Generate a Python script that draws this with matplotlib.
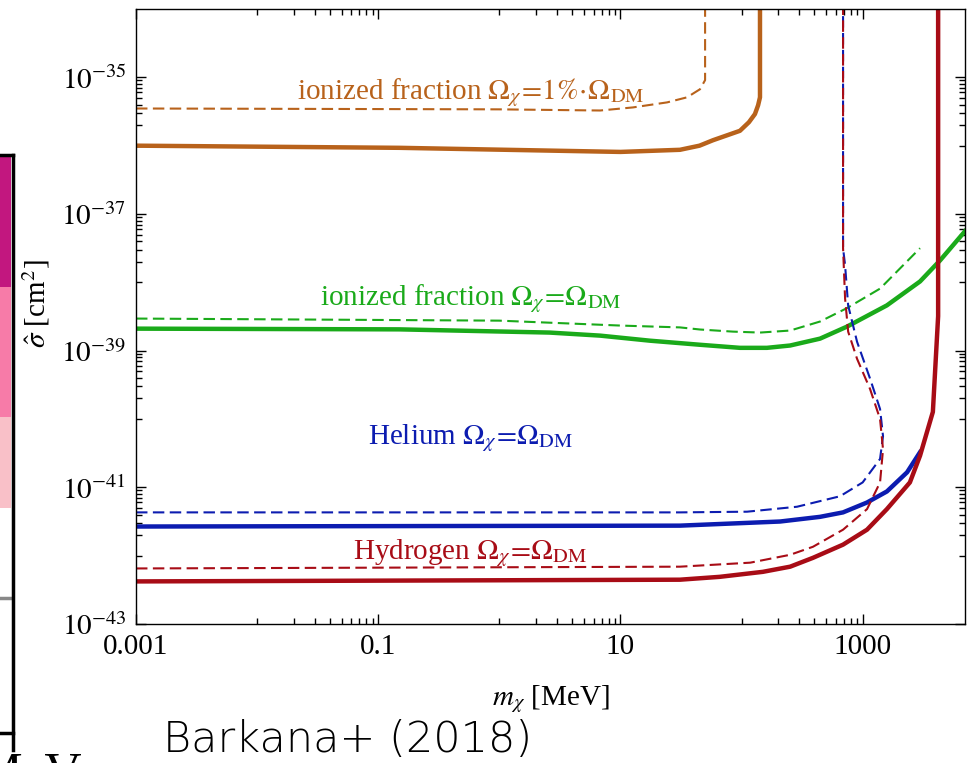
import matplotlib
matplotlib.use("Agg")
import matplotlib.pyplot as plt
from matplotlib.patches import Rectangle
from matplotlib.lines import Line2D

plt.rcParams["font.family"] = ["Liberation Serif", "DejaVu Serif"]
plt.rcParams["mathtext.fontset"] = "stix"

# --- data (m in MeV, sigma in cm^2) ---
ion1_solid_m = [0.001, 0.15, 10, 31, 45, 58, 97, 115, 129, 137, 142, 142]
ion1_solid_s = [1.0e-36, 9.3e-37, 8.1e-37, 8.7e-37, 1.0e-36, 1.2e-36, 1.65e-36, 2.2e-36,
                2.9e-36, 3.9e-36, 5.1e-36, 2e-34]
ion1_dash_m = [0.001, 1.0, 6.8, 12.7, 24.3, 35.5, 45.4, 50, 50]
ion1_dash_s = [3.5e-36, 3.4e-36, 3.27e-36, 3.63e-36, 4.3e-36, 5.1e-36, 6.7e-36, 9.1e-36, 2e-34]

ion_solid_m = [0.001, 0.15, 2.6, 6.8, 17.5, 45.4, 97, 162, 252, 445, 743, 1585, 2977,
               4365, 7000]
ion_solid_s = [2.1e-39, 2.05e-39, 1.84e-39, 1.66e-39, 1.4e-39, 1.22e-39, 1.1e-39, 1.1e-39,
               1.19e-39, 1.5e-39, 2.25e-39, 4.6e-39, 1.03e-38, 2.1e-38, 5.6e-38]
ion_dash_m = [0.001, 1.0, 10, 31, 45.4, 85, 142, 252, 445, 743, 1393, 2977]
ion_dash_s = [2.95e-39, 2.75e-39, 2.33e-39, 2.19e-39, 2.04e-39, 1.9e-39, 1.84e-39,
              1.97e-39, 2.67e-39, 4.2e-39, 8.1e-39, 3.16e-38]

he_solid_m = [0.001, 31, 208, 445, 689, 1087, 1585, 2328, 2977]
he_solid_s = [2.67e-42, 2.75e-42, 3.16e-42, 3.7e-42, 4.3e-42, 6.0e-42, 8.7e-42, 1.66e-41,
              3.27e-41]
he_dash_m = [0.001, 31, 111, 287, 650, 1000, 1392, 1473, 1392, 1151, 899, 759, 716, 689, 689]
he_dash_s = [4.3e-42, 4.3e-42, 4.4e-42, 5.2e-42, 7.4e-42, 1.18e-41, 2.6e-41, 5.6e-41,
             1.4e-40, 3.9e-40, 1.35e-39, 4.6e-39, 1.78e-38, 3.16e-38, 2e-34]

h_solid_m = [0.001, 31, 66, 150, 252, 389, 689, 1087, 1585, 2455, 2977, 3800, 4200, 4200]
h_solid_s = [4.2e-43, 4.45e-43, 4.9e-43, 5.8e-43, 6.9e-43, 9.3e-43, 1.45e-42, 2.4e-42,
             4.8e-42, 1.18e-41, 2.9e-41, 1.27e-40, 3.2e-39, 2e-34]
h_dash_m = [0.001, 31, 118, 252, 389, 689, 1087, 1392, 1473, 1392, 1151, 899, 759, 716,
            689, 689]
h_dash_s = [6.5e-43, 6.9e-43, 7.9e-43, 1.03e-42, 1.35e-42, 2.4e-42, 4.8e-42, 1.18e-41,
            3.6e-41, 1.0e-40, 2.75e-40, 7.6e-40, 1.9e-39, 5.8e-39, 3.16e-38, 2e-34]

xmajor = [1e-3, 1e-1, 1e1, 1e3]
xmajor_labels = ["0.001", "0.1", "10", "1000"]
ymajor = [1e-43, 1e-41, 1e-39, 1e-37, 1e-35]
ymajor_labels = [r"$10^{-43}$", r"$10^{-41}$", r"$10^{-39}$", r"$10^{-37}$", r"$10^{-35}$"]

ORANGE = "#b8621b"
GREEN = "#1aaa1a"
BLUE = "#0c1cb0"
RED = "#a80c16"

W, H = 973, 763
fig = plt.figure(figsize=(W / 100, H / 100), dpi=100)
ax = fig.add_axes([136 / W, 1 - 624 / H, (965 - 136) / W, (624 - 9) / H])
ax.set_xscale("log")
ax.set_yscale("log")

thick = 3.2
thin = 1.5
dash = (5.5, 2.6)

ax.plot(ion1_dash_m, ion1_dash_s, color=ORANGE, lw=thin, dashes=dash)
ax.plot(ion1_solid_m, ion1_solid_s, color=ORANGE, lw=thick, solid_joinstyle="round")
ax.plot(ion_dash_m, ion_dash_s, color=GREEN, lw=thin, dashes=dash)
ax.plot(ion_solid_m, ion_solid_s, color=GREEN, lw=thick, solid_joinstyle="round")
ax.plot(he_dash_m, he_dash_s, color=BLUE, lw=thin, dashes=dash)
ax.plot(he_solid_m, he_solid_s, color=BLUE, lw=thick, solid_joinstyle="round")
ax.plot(h_dash_m, h_dash_s, color=RED, lw=thin, dashes=dash)
ax.plot(h_solid_m, h_solid_s, color=RED, lw=thick, solid_joinstyle="round")

fs_lab = 21
ax.text(0.58, 4.8e-36, r"ionized fraction $\Omega_\chi\!=\!1\%\!\cdot\!\Omega_{\rm DM}$",
        color=ORANGE, fontsize=fs_lab, ha="center", va="baseline")
ax.text(0.58, 4.6e-39, r"ionized fraction $\Omega_\chi\!=\!\Omega_{\rm DM}$",
        color=GREEN, fontsize=fs_lab, ha="center", va="baseline")
ax.text(0.58, 4.3e-41, r"Helium $\Omega_\chi\!=\!\Omega_{\rm DM}$",
        color=BLUE, fontsize=fs_lab, ha="center", va="baseline")
ax.text(0.58, 8.8e-43, r"Hydrogen $\Omega_\chi\!=\!\Omega_{\rm DM}$",
        color=RED, fontsize=fs_lab, ha="center", va="baseline")

ax.set_xlim(1e-3, 7000)
ax.set_ylim(1e-43, 1e-34)

# Mathematica-style ticks: labels every two decades, minors j*10^(k-1)
xminor = [j * m / 10 for m in xmajor for j in range(1, 10)]
yminor = [j * m / 10 for m in ymajor for j in range(1, 10)]
ax.set_xticks(xmajor)
ax.set_xticklabels(xmajor_labels)
ax.set_xticks([v for v in xminor if 1e-3 <= v <= 7000], minor=True)
ax.set_xticklabels([], minor=True)
ax.set_yticks(ymajor)
ax.set_yticklabels(ymajor_labels)
ax.set_yticks([v for v in yminor if 1e-43 <= v <= 1e-34], minor=True)
ax.set_yticklabels([], minor=True)
ax.tick_params(which="both", direction="in", top=True, right=True, width=1.0)
ax.tick_params(which="major", length=7, labelsize=21, pad=7)
ax.tick_params(which="minor", length=4)
for sp in ax.spines.values():
    sp.set_linewidth(1.0)

ax.set_xlabel(r"$m_\chi$ [MeV]", fontsize=21)
ax.xaxis.set_label_coords(0.5, -0.096)
ax.set_ylabel(r"$\hat{\sigma}$ [cm$^2$]", fontsize=21)
ax.yaxis.set_label_coords(-0.101, 0.52)


# clipped pieces of the neighbouring slide content on the left
def fx(px):
    return px / W


def fy(py):
    return 1 - py / H


bands = [(155, 287, "#c2177f"), (287, 417, "#f77ba8"), (417, 508, "#f9c0c8")]
for top, bot, col in bands:
    fig.add_artist(Rectangle((0, fy(bot)), fx(11), fy(top) - fy(bot), color=col, lw=0))
fig.add_artist(Line2D([0, fx(11)], [fy(598), fy(598)], color="#888888", lw=2.5))
fig.add_artist(Line2D([fx(12.5), fx(12.5)], [fy(155), fy(750)], color="black", lw=2.5))
fig.add_artist(Line2D([0, fx(12.5)], [fy(155), fy(155)], color="black", lw=2.5))
fig.add_artist(Line2D([0, fx(12.5)], [fy(733), fy(733)], color="black", lw=2.5))
fig.text(fx(-23), fy(787), "MeV", fontsize=37, ha="left", va="baseline")

fig.text(fx(163), fy(752), "Barkana+ (2018)", fontsize=31, family="DejaVu Sans",
         fontweight="light", ha="left", va="baseline")

fig.savefig("out.png", dpi=100)
